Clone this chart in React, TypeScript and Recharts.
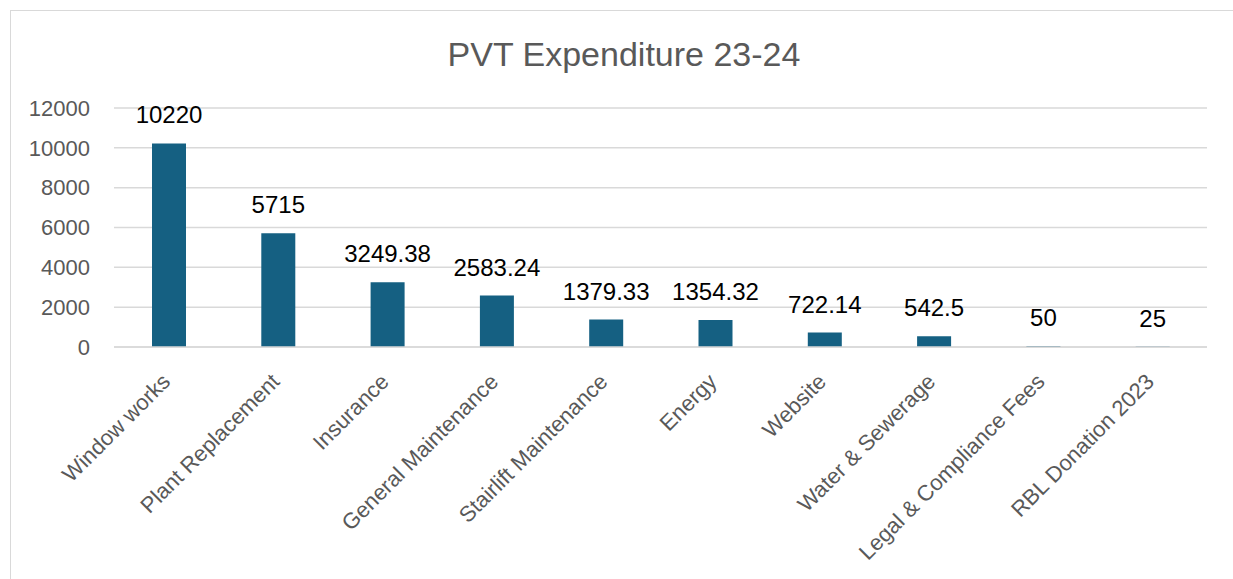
import React from "react";
import { BarChart, Bar, XAxis, YAxis, CartesianGrid, LabelList } from "recharts";

const categories = [
  "Window works",
  "Plant Replacement",
  "Insurance",
  "General Maintenance",
  "Stairlift Maintenance",
  "Energy",
  "Website",
  "Water & Sewerage",
  "Legal & Compliance Fees",
  "RBL Donation 2023",
];
const amounts = [10220, 5715, 3249.38, 2583.24, 1379.33, 1354.32, 722.14, 542.5, 50, 25];
const yTicks = [0, 2000, 4000, 6000, 8000, 10000, 12000];

const FONT = "'Liberation Sans', Arial, sans-serif";
const GREY = "#595959";

function AngledTick(props: any) {
  const { x, y, payload } = props;
  return (
    <g transform={`translate(${x + 3},${y + 28})`}>
      <text
        x={0}
        y={0}
        textAnchor="end"
        transform="rotate(-45)"
        fill={GREY}
        fontSize={22}
        fontFamily={FONT}
      >
        {payload.value}
      </text>
    </g>
  );
}

export default function App() {
  const data = categories.map((name, i) => ({ name, amount: amounts[i] }));

  // fixed box so the oversized chart frame doesn't make the page scroll
  return (
    <div
      style={{
        position: "fixed",
        left: 0,
        top: 0,
        width: 1233,
        height: 579,
        overflow: "hidden",
        background: "#fff",
        fontFamily: FONT,
      }}
    >
      <div
        style={{
          position: "absolute",
          left: 10,
          top: 10,
          width: 1400,
          height: 800,
          border: "1.5px solid #d9d9d9",
          pointerEvents: "none",
        }}
      />
      <div
        style={{
          position: "absolute",
          left: 324,
          top: 37,
          width: 600,
          textAlign: "center",
          fontSize: 34,
          lineHeight: "34px",
          color: GREY,
        }}
      >
        PVT Expenditure 23-24
      </div>
      <div style={{ position: "absolute", left: 8, top: 8 }}>
        <BarChart width={1217} height={563} data={data} margin={{ top: 100, right: 18, left: 0, bottom: 0 }}>
          <CartesianGrid vertical={false} stroke="#d9d9d9" strokeWidth={1.5} />
          <XAxis
            dataKey="name"
            interval={0}
            height={224}
            tickLine={false}
            axisLine={{ stroke: "#d9d9d9", strokeWidth: 1.5 }}
            tick={<AngledTick />}
          />
          <YAxis
            width={106}
            domain={[0, 12000]}
            ticks={yTicks}
            axisLine={false}
            tickLine={false}
            tickMargin={18}
            tick={{ fill: GREY, fontSize: 22, fontFamily: FONT }}
          />
          <Bar dataKey="amount" fill="#156082" barSize={34} isAnimationActive={false}>
            <LabelList
              dataKey="amount"
              position="top"
              offset={20}
              fill="#000"
              fontSize={24}
              fontFamily={FONT}
            />
          </Bar>
        </BarChart>
      </div>
    </div>
  );
}
